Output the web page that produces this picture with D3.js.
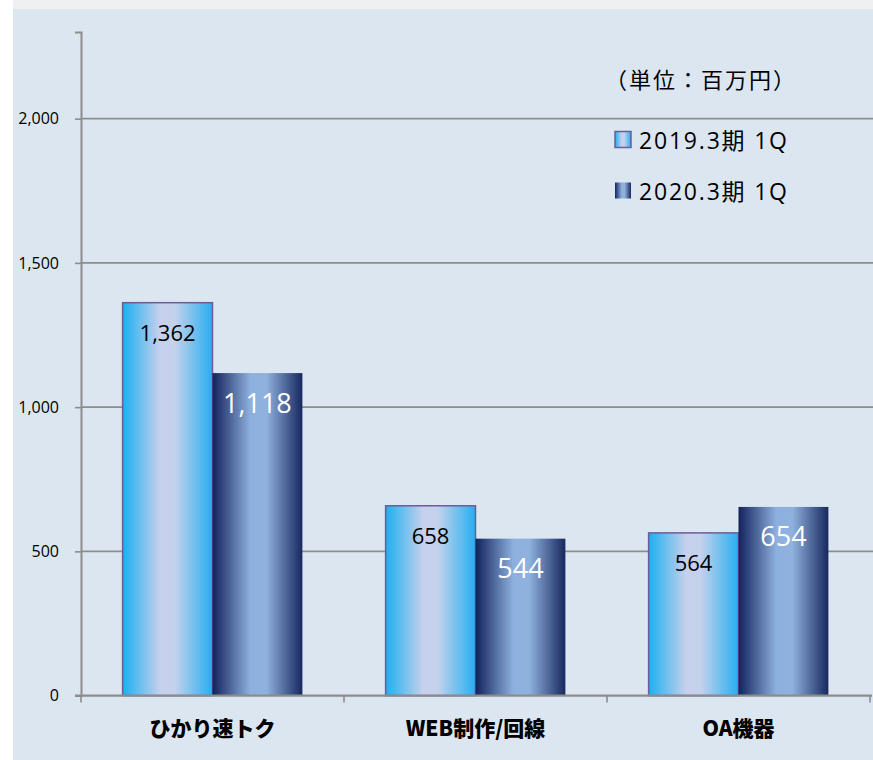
<!DOCTYPE html>
<html><head><meta charset="utf-8">
<script src="https://cdn.jsdelivr.net/npm/d3@7"></script>
<style>
html,body{margin:0;padding:0;background:#fff;}
svg{display:block;}
</style></head>
<body><svg id="chart" width="873" height="760"></svg>
<script>
const categories = ["ひかり速トク", "WEB制作/回線", "OA機器"];
const seriesNames = ["2019.3期 1Q", "2020.3期 1Q"];
const values2019 = [1362, 658, 564];
const values2020 = [1118, 544, 654];
const yTicks = [0, 500, 1000, 1500, 2000];
const unitLabel = "（単位：百万円）";

(function(){
const svg = d3.select("#chart");
const W = 873, H = 760;
const mLeft = 81, mRight = 870, mTop = 32.1, mBottom = 695.6;
const FONT = "'Open Sans','Noto Sans CJK JP',sans-serif";

// backgrounds
svg.append("rect").attr("x",0).attr("y",0).attr("width",W).attr("height",H).attr("fill","#ffffff");
svg.append("rect").attr("x",13).attr("y",0).attr("width",W-13).attr("height",9).attr("fill","#f0f0f0");
svg.append("rect").attr("x",13).attr("y",9).attr("width",W-13).attr("height",H-9).attr("fill","#dce6f1");

const defs = svg.append("defs");
const g1 = defs.append("linearGradient").attr("id","grad1").attr("x1","0%").attr("x2","100%").attr("y1","0%").attr("y2","0%");
[[0,"#1bb0f0"],[0.42,"#c7d0ec"],[0.58,"#c4d2ec"],[1,"#26aef0"]].forEach(s=>g1.append("stop").attr("offset",s[0]).attr("stop-color",s[1]));
const g2 = defs.append("linearGradient").attr("id","grad2").attr("x1","0%").attr("x2","100%").attr("y1","0%").attr("y2","0%");
[[0,"#13225c"],[0.42,"#8db0de"],[0.6,"#8fb1de"],[1,"#17285f"]].forEach(s=>g2.append("stop").attr("offset",s[0]).attr("stop-color",s[1]));

const y = d3.scaleLinear().domain([0, 2300]).range([mBottom, mTop]);
const x0 = d3.scaleBand().domain(categories).range([mLeft, mRight]).padding(0);
const x1 = d3.scaleBand().domain(seriesNames).range([0, x0.bandwidth()]).paddingInner(0).paddingOuter(0.463);

// gridlines
svg.append("g").selectAll("line").data(yTicks.filter(t=>t>0)).join("line")
  .attr("x1", mLeft).attr("x2", W).attr("y1", d=>y(d)).attr("y2", d=>y(d))
  .attr("stroke","#8e8e8e").attr("stroke-width",1.6);

// y axis
const yAxis = d3.axisLeft(y).tickValues(yTicks).tickSize(6).tickPadding(16).tickFormat(d3.format(","));
const ya = svg.append("g").attr("transform",`translate(${mLeft},0)`).call(yAxis);
ya.select(".domain").attr("stroke","#8c8c8c").attr("stroke-width",2);
ya.selectAll(".tick line").attr("stroke","#8c8c8c").attr("stroke-width",1.6);
ya.selectAll(".tick text").attr("font-family",FONT).attr("font-size",16).attr("fill","#000");

// bars
const data = categories.map((c,i)=>({cat:c, vals:[{s:seriesNames[0], v:values2019[i], k:0},{s:seriesNames[1], v:values2020[i], k:1}]}));
const groups = svg.append("g").selectAll("g").data(data).join("g")
  .attr("transform", d=>`translate(${x0(d.cat)},0)`);
groups.selectAll("rect").data(d=>d.vals).join("rect")
  .attr("x", d=>x1(d.s)).attr("width", x1.bandwidth())
  .attr("y", d=>y(d.v)).attr("height", d=>y(0)-y(d.v))
  .attr("fill", d=>d.k===0?"url(#grad1)":"url(#grad2)")
  .attr("stroke", d=>d.k===0?"#6d5c98":"none").attr("stroke-width",1.5);
groups.selectAll("text").data(d=>d.vals).join("text")
  .attr("x", d=>x1(d.s)+x1.bandwidth()/2)
  .attr("y", d=>y(d.v)+29)
  .attr("dominant-baseline","central")
  .attr("text-anchor","middle")
  .attr("font-family",FONT)
  .attr("font-size", d=>d.k===0?22:27)
  .attr("fill", d=>d.k===0?"#000":"#fff")
  .text(d=>d3.format(",")(d.v));

// x axis
const xa = svg.append("g").attr("transform",`translate(0,${y(0)})`);
xa.append("line").attr("x1",mLeft-6).attr("x2",mRight+2).attr("y1",0).attr("y2",0).attr("stroke","#8c8c8c").attr("stroke-width",2.2);
const tickPos = categories.map(c=>x0(c)).concat([x0(categories[categories.length-1])+x0.bandwidth()]);
xa.selectAll("line.tk").data(tickPos).join("line").attr("class","tk")
  .attr("x1",d=>d).attr("x2",d=>d).attr("y1",0).attr("y2",7).attr("stroke","#8c8c8c").attr("stroke-width",1.6);
xa.selectAll("text").data(categories).join("text")
  .attr("x", d=>x0(d)+x0.bandwidth()/2).attr("y", 31)
  .attr("dominant-baseline","central").attr("text-anchor","middle")
  .attr("font-family","'Noto Sans CJK JP',sans-serif").attr("font-weight",900).attr("font-size",21)
  .attr("fill","#000").text(d=>d);

// unit label
svg.append("text").attr("x",701).attr("y",78).attr("dominant-baseline","central").attr("text-anchor","middle")
  .attr("font-family","'Noto Sans CJK JP',sans-serif").attr("font-size",22).attr("letter-spacing",2).attr("fill","#000").text(unitLabel);

// legend
const leg = svg.append("g").selectAll("g").data(seriesNames).join("g")
  .attr("transform",(d,i)=>`translate(615,${140 + i*51})`);
leg.append("rect").attr("x",0).attr("y",-8.5).attr("width",16).attr("height",16)
  .attr("fill",(d,i)=>i===0?"url(#grad1)":"url(#grad2)")
  .attr("stroke",(d,i)=>i===0?"#6d5c98":"none").attr("stroke-width",1.5);
leg.append("text").attr("x",24).attr("y",0).attr("dominant-baseline","central")
  .attr("font-family",FONT).attr("font-size",23).attr("letter-spacing",1.8).attr("fill","#000").text(d=>d);
})();
</script></body></html>
